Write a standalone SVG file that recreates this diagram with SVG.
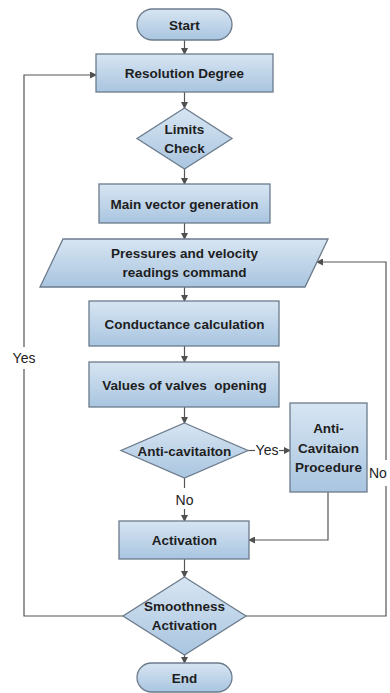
<svg xmlns="http://www.w3.org/2000/svg" width="390" height="693" viewBox="0 0 390 693">
<defs>
<linearGradient id="g" x1="0" y1="0" x2="0" y2="1">
<stop offset="0" stop-color="#d7e5f2"/>
<stop offset="1" stop-color="#a9c5e0"/>
</linearGradient>
<marker id="a" markerWidth="7" markerHeight="7" refX="6" refY="3.5" orient="auto" markerUnits="userSpaceOnUse">
<path d="M0,0 L7,3.5 L0,7 Z" fill="#505050"/>
</marker>
</defs>
<style>
.n{fill:url(#g);stroke:#6b7b8c;stroke-width:1.3}
.t{font-family:"Liberation Sans",Arial,sans-serif;font-weight:bold;font-size:13.5px;fill:#1e1e1e;text-anchor:middle}
.l{font-family:"Liberation Sans",Arial,sans-serif;font-size:14px;fill:#222;text-anchor:middle}
.c{fill:none;stroke:#555;stroke-width:1.2}
</style>
<rect width="390" height="693" fill="#fff"/>
<g id="connectors">
<line class="c" x1="184.5" y1="40" x2="184.5" y2="54" marker-end="url(#a)"/>
<line class="c" x1="184.5" y1="92" x2="184.5" y2="108" marker-end="url(#a)"/>
<line class="c" x1="184.5" y1="169" x2="184.5" y2="184" marker-end="url(#a)"/>
<line class="c" x1="184.5" y1="223" x2="184.5" y2="239" marker-end="url(#a)"/>
<line class="c" x1="184.5" y1="287" x2="184.5" y2="301" marker-end="url(#a)"/>
<line class="c" x1="184.5" y1="346" x2="184.5" y2="362" marker-end="url(#a)"/>
<line class="c" x1="184.5" y1="407" x2="184.5" y2="423" marker-end="url(#a)"/>
<line class="c" x1="248" y1="450.5" x2="255" y2="450.5"/>
<line class="c" x1="279" y1="450.5" x2="290" y2="450.5" marker-end="url(#a)"/>
<line class="c" x1="184.5" y1="478" x2="184.5" y2="488"/>
<line class="c" x1="184.5" y1="509" x2="184.5" y2="521" marker-end="url(#a)"/>
<path class="c" d="M328,492 V540 H249" marker-end="url(#a)"/>
<line class="c" x1="184.5" y1="559" x2="184.5" y2="577" marker-end="url(#a)"/>
<line class="c" x1="184.5" y1="655" x2="184.5" y2="663" marker-end="url(#a)"/>
<path class="c" d="M123,616 H24 V369"/>
<path class="c" d="M24,347 V75 H96" marker-end="url(#a)"/>
<path class="c" d="M246,616 H386 V486"/>
<path class="c" d="M386,460 V262 H317" marker-end="url(#a)"/>
<text class="l" x="24" y="363">Yes</text>
<text class="l" x="267" y="455">Yes</text>
<text class="l" x="184.5" y="505">No</text>
<text class="l" x="369" y="478" style="text-anchor:start">No</text>
</g>
<g id="start"><rect class="n" x="137" y="9" width="95" height="31" rx="15.5"/><text class="t" x="184.5" y="29.5">Start</text></g>
<g id="resolution"><rect class="n" x="96" y="54" width="177" height="38"/><text class="t" x="184.5" y="78">Resolution Degree</text></g>
<g id="limits"><polygon class="n" points="184.5,108 232,138.5 184.5,169 137,138.5"/><text class="t" x="184.5" y="134">Limits</text><text class="t" x="184.5" y="152.5">Check</text></g>
<g id="mainvector"><rect class="n" x="99" y="184" width="171" height="39"/><text class="t" x="184.5" y="208.5">Main vector generation</text></g>
<g id="pressures"><polygon class="n" points="63,239 328,239 305,287 40,287"/><text class="t" x="184.5" y="258">Pressures and velocity</text><text class="t" x="184.5" y="277">readings command</text></g>
<g id="conductance"><rect class="n" x="89" y="301" width="190" height="45"/><text class="t" x="184.5" y="328.5">Conductance calculation</text></g>
<g id="values"><rect class="n" x="89" y="362" width="190" height="45"/><text class="t" x="184.5" y="389.5" xml:space="preserve">Values of valves  opening</text></g>
<g id="anticav"><polygon class="n" points="184.5,423 248,450.5 184.5,478 121,450.5"/><text class="t" x="184.5" y="455.5">Anti-cavitaiton</text></g>
<g id="procedure"><rect class="n" x="290" y="403" width="77" height="89"/><text class="t" x="328.5" y="433">Anti-</text><text class="t" x="328.5" y="452.5">Cavitaion</text><text class="t" x="328.5" y="472">Procedure</text></g>
<g id="activation"><rect class="n" x="119" y="521" width="130" height="38"/><text class="t" x="184.5" y="545">Activation</text></g>
<g id="smoothness"><polygon class="n" points="184.5,577 246,616 184.5,655 123,616"/><text class="t" x="184.5" y="611">Smoothness</text><text class="t" x="184.5" y="630">Activation</text></g>
<g id="end"><rect class="n" x="137" y="663" width="95" height="29" rx="14.5"/><text class="t" x="184.5" y="682.5">End</text></g>
</svg>
